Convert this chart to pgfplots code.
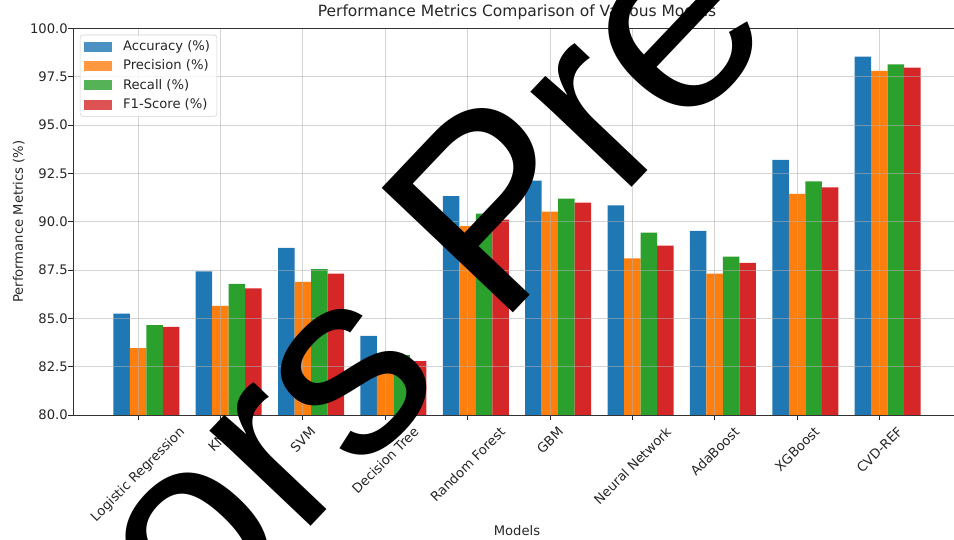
\documentclass[border=0pt]{standalone}
\usepackage{pgfplots}
\pgfplotsset{compat=1.18}
\usepackage{fontspec}
\setmainfont{DejaVu Sans}
\newfontfamily\stampfont{Liberation Sans}

\definecolor{tabblue}{HTML}{1F77B4}
\definecolor{taborange}{HTML}{FF7F0E}
\definecolor{tabgreen}{HTML}{2CA02C}
\definecolor{tabred}{HTML}{D62728}

% Models are placed at 0..9; each metric is shifted by its own offset
% (accuracy -0.2, precision 0, recall +0.2, F1 +0.4)
\begin{document}
\begin{tikzpicture}
\path[use as bounding box] (0,0) rectangle (9.54in,5.40in);
\begin{scope}
\clip (0,0) rectangle (9.54in,5.40in);
\begin{axis}[
  at={(0.73in,1.25in)}, anchor=south west,
  scale only axis, width=8.88in, height=3.865in,
  xmin=-0.79, xmax=9.99, ymin=80, ymax=100,
  ytick={80,82.5,...,100},
  xtick={0,...,9},
  xticklabels={
    \rotatebox{45}{Logistic Regression},
    \rotatebox{45}{KNN},
    \rotatebox{45}{SVM},
    \rotatebox{45}{Decision Tree},
    \rotatebox{45}{Random Forest},
    \rotatebox{45}{GBM},
    \rotatebox{45}{Neural Network},
    \rotatebox{45}{AdaBoost},
    \rotatebox{45}{XGBoost},
    \rotatebox{45}{CVD-REF}},
  yticklabel style={/tikz/xshift=3pt, /pgf/number format/.cd, fixed, fixed zerofill, precision=1, assume math mode=true},
  ticklabel style={font=\fontsize{9.5}{11}\selectfont, text=black!85},
  xticklabel style={anchor=north, yshift=-1pt},
  tick align=outside, major tick length=3.3pt,
  xtick pos=bottom, ytick pos=left,
  tick style={black!85, line width=0.6pt},
  axis line style={black!80, line width=0.6pt},
  grid=major,
  major grid style={black!31, opacity=0.55, line width=0.6pt},
  axis on top,
  title={Performance Metrics Comparison of Various Models},
  title style={font=\fontsize{11.2}{13}\selectfont, text=black!85, yshift=-3pt},
  xlabel={Models}, ylabel={Performance Metrics (\%)},
  label style={font=\fontsize{9.5}{11}\selectfont, text=black!85},
  xlabel style={yshift=6pt},
  ylabel style={yshift=-3pt},
  ybar, bar width=0.2, bar shift=0pt,
  every axis plot/.append style={draw=none},
  legend cell align=left,
  legend image code/.code={\fill[#1, sharp corners] (0pt,-3.6pt) rectangle (20pt,3.6pt);},
  legend style={at={(0,1)}, anchor=north west, xshift=5pt, yshift=-4.5pt,
    draw=black!18, rounded corners=2pt, fill=white, fill opacity=0.8, text opacity=1,
    font=\fontsize{9.5}{11}\selectfont, text=black!85,
    inner xsep=3pt, inner ysep=2pt, row sep=1.3pt,
    /tikz/every odd column/.append style={column sep=6pt},
    /tikz/every even column/.append style={column sep=4pt}},
]
\addplot[fill=tabblue] coordinates {
  (-0.2,85.25) (0.8,87.43) (1.8,88.65) (2.8,84.10) (3.8,91.32)
  (4.8,92.13) (5.8,90.85) (6.8,89.53) (7.8,93.20) (8.8,98.54)};
\addlegendentry{Accuracy (\%)}
\addplot[fill=taborange] coordinates {
  (0,83.46) (1,85.65) (2,86.89) (3,82.45) (4,89.77)
  (5,90.53) (6,88.10) (7,87.32) (8,91.44) (9,97.81)};
\addlegendentry{Precision (\%)}
\addplot[fill=tabgreen] coordinates {
  (0.2,84.65) (1.2,86.79) (2.2,87.55) (3.2,83.10) (4.2,90.42)
  (5.2,91.20) (6.2,89.44) (7.2,88.20) (8.2,92.09) (9.2,98.14)};
\addlegendentry{Recall (\%)}
\addplot[fill=tabred] coordinates {
  (0.4,84.56) (1.4,86.55) (2.4,87.32) (3.4,82.79) (4.4,90.11)
  (5.4,90.99) (6.4,88.77) (7.4,87.87) (8.4,91.78) (9.4,97.97)};
\addlegendentry{F1-Score (\%)}
\end{axis}
% diagonal watermark stamped over the figure
\node[rotate=46.5, anchor=base west, inner sep=0pt, text=black,
      font=\stampfont\fontsize{190}{190}\selectfont] at (4.99in,2.12in) {\llap{Authors }Preview};
\end{scope}
\end{tikzpicture}
\end{document}
